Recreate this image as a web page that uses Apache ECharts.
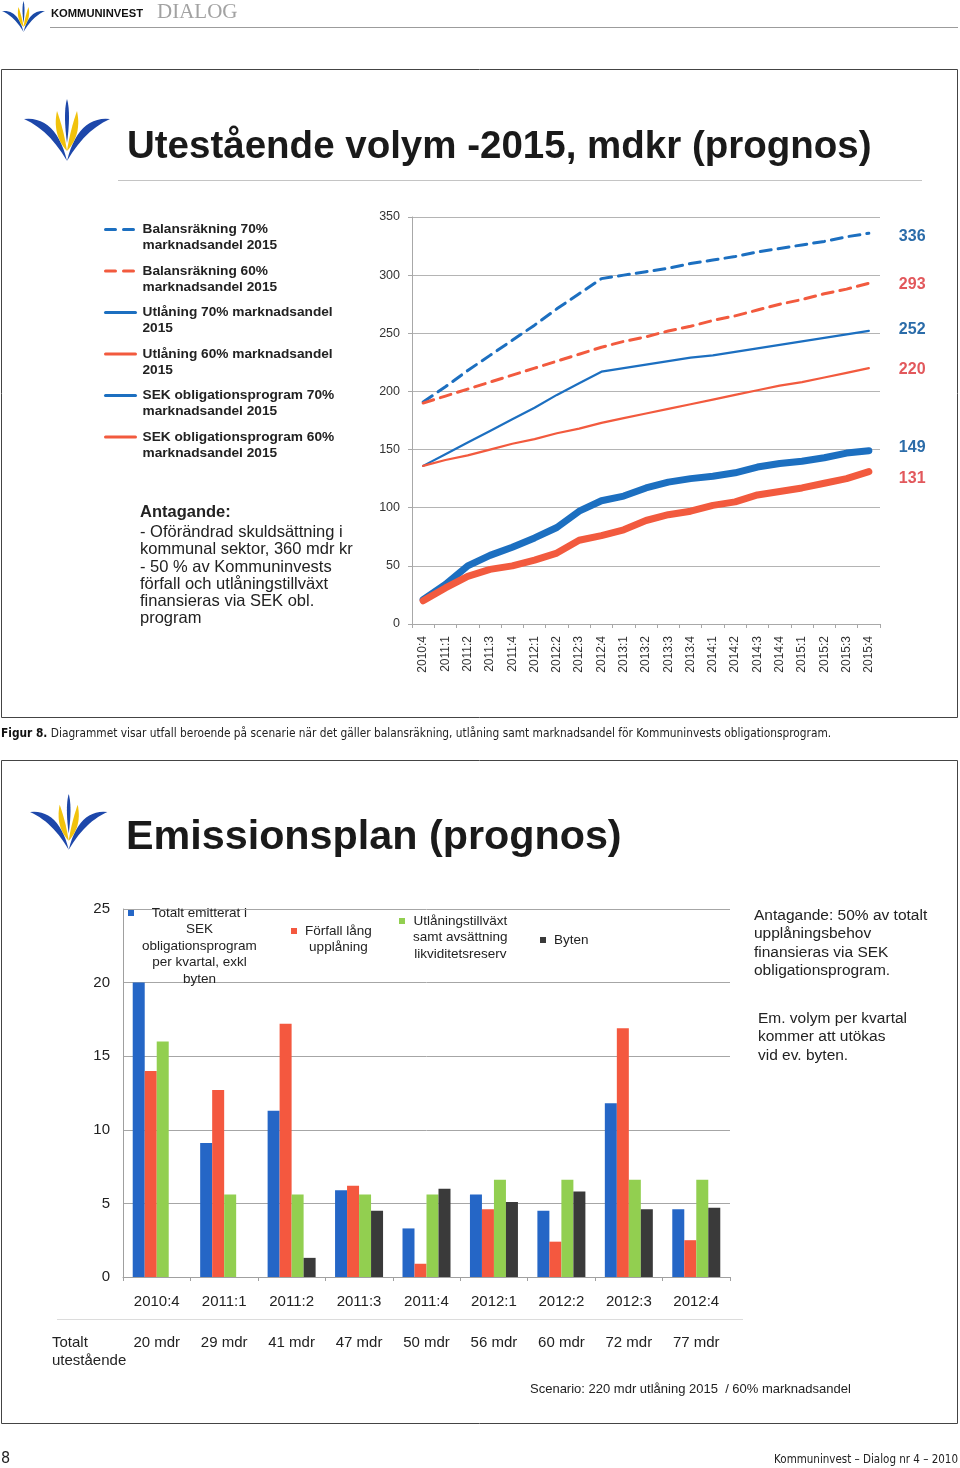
<!DOCTYPE html>
<html><head><meta charset="utf-8">
<script src="https://cdn.jsdelivr.net/npm/echarts@6/dist/echarts.min.js"></script>
<style>html,body{margin:0;padding:0;background:#fff}#c{width:960px;height:1468px}</style>
</head><body><div id="c"></div>
<script>
// ---------- DATA ----------
const quarters = ['2010:4','2011:1','2011:2','2011:3','2011:4','2012:1','2012:2','2012:3','2012:4',
  '2013:1','2013:2','2013:3','2013:4','2014:1','2014:2','2014:3','2014:4','2015:1','2015:2','2015:3','2015:4'];
const lineNames = [
  'Balansräkning 70%\nmarknadsandel 2015',
  'Balansräkning 60%\nmarknadsandel 2015',
  'Utlåning 70% marknadsandel\n2015',
  'Utlåning 60% marknadsandel\n2015',
  'SEK obligationsprogram 70%\nmarknadsandel 2015',
  'SEK obligationsprogram 60%\nmarknadsandel 2015'
];
const balans70 = [191,204,218,231,244,257,271,284,297,300,303,306,310,313,316,320,323,326,329,333,336];
const balans60 = [190,196,202,208,214,220,226,232,238,243,247,252,256,261,265,270,275,279,284,288,293];
const utlaning70 = [136,146,156,166,176,186,197,207,217,220,223,226,229,231,234,237,240,243,246,249,252];
const utlaning60 = [136,141,145,150,155,159,164,168,173,177,181,185,189,193,197,201,205,208,212,216,220];
const sek70 = [21,34,50,59,66,74,83,97,106,110,117,122,125,127,130,135,138,140,143,147,149];
const sek60 = [20,31,41,47,50,55,61,72,76,81,89,94,97,102,105,111,114,117,121,125,131];

const barQuarters = ['2010:4','2011:1','2011:2','2011:3','2011:4','2012:1','2012:2','2012:3','2012:4'];
const totalOutstanding = ['20 mdr','29 mdr','41 mdr','47 mdr','50 mdr','56 mdr','60 mdr','72 mdr','77 mdr'];
const barNames = [
  'Totalt emitterat i\nSEK\nobligationsprogram\nper kvartal, exkl\nbyten',
  'Förfall lång\nupplåning',
  'Utlåningstillväxt\nsamt avsättning\nlikviditetsreserv',
  'Byten'
];
const emitterat = [20.0, 9.1, 11.3, 5.9, 3.3, 5.6, 4.5, 11.8, 4.6];
const forfall   = [14.0, 12.7, 17.2, 6.2, 0.9, 4.6, 2.4, 16.9, 2.5];
const tillvaxt  = [16.0, 5.6, 5.6, 5.6, 5.6, 6.6, 6.6, 6.6, 6.6];
const byten     = [null, null, 1.3, 4.5, 6.0, 5.1, 5.8, 4.6, 4.7];

// ---------- STYLE ----------
const SANS = "'Liberation Sans', Arial, Helvetica, sans-serif";
const NARROW = "'Liberation Sans Narrow', 'Arial Narrow', 'DejaVu Sans Condensed', sans-serif";
const BLUE = '#1c6fc0', RED = '#f25a3e';
const LBLUE = '#2b6ca9', LRED = '#e2585c';
const BAR_COLORS = ['#2566c6', '#f4583f', '#92cf50', '#3a3a3a'];

// quadratic-curve outline helper for the logo shape
function quad(p0, c, p1, n) {
  const pts = [];
  for (let i = 0; i <= n; i++) {
    const t = i / n, u = 1 - t;
    pts.push([u * u * p0[0] + 2 * u * t * c[0] + t * t * p1[0], u * u * p0[1] + 2 * u * t * c[1] + t * t * p1[1]]);
  }
  return pts;
}
function leaf(a, c1, b, c2) { return quad(a, c1, b, 14).concat(quad(b, c2, a, 14)); }
function logo(x, y, s, blue, yellow) {
  const shapes = [
    [leaf([0, 20], [32, 17], [43, 62], [25, 31]), blue],
    [leaf([86, 20], [54, 17], [43, 62], [61, 31]), blue],
    [leaf([43, 52], [28, 36], [33, 12], [40, 32]), yellow],
    [leaf([43, 52], [58, 36], [53, 12], [46, 32]), yellow],
    [leaf([43, 0], [39, 14], [43, 44], [47, 14]), blue]
  ];
  return {
    type: 'group', x: x, y: y, scaleX: s, scaleY: s, silent: true,
    children: shapes.map(function (sh) { return {type: 'polygon', shape: {points: sh[0]}, style: {fill: sh[1]}}; })
  };
}

const lineData = [balans70, balans60, utlaning70, utlaning60, sek70, sek60];
const lineColors = [BLUE, RED, BLUE, RED, BLUE, RED];
const labelColors = [LBLUE, LRED, LBLUE, LRED, LBLUE, LRED];
const lineWidths = [3, 3, 2.2, 2.2, 7, 7];
const lineTypes = [[11, 7], [11, 7], 'solid', 'solid', 'solid', 'solid'];
const legendTypes = [[10, 8], [10, 8], 'solid', 'solid', 'solid', 'solid'];
const labelOffsets = [[0, 3], [0, 1], [0, -1], [0, 1], [0, -3], [0, 7]];

function richLines(nm) { return nm.split('\n').map(function (t) { return '{c|' + t + '}'; }).join('\n'); }

// legend helpers: one legend component per item; icon sits level with the first text line
function lineLegend(i, left, iconCenterY) {
  const L = 16, n = lineNames[i].split('\n').length;
  return {
    data: [lineNames[i]], left: left, top: iconCenterY - (2 * n - 1) * L / 2, orient: 'vertical', padding: 0,
    itemWidth: 30, itemHeight: 14, selectedMode: false,
    lineStyle: {width: 3, type: legendTypes[i], color: lineColors[i]},
    itemStyle: {opacity: 0},
    formatter: richLines,
    textStyle: {fontFamily: SANS, fontSize: 13.7, fontWeight: 'bold', color: '#222', lineHeight: L, padding: [(n - 1) * L, 0, 0, 2],
      rich: {c: {fontFamily: SANS, fontSize: 13.7, fontWeight: 'bold', color: '#222', lineHeight: L}}}
  };
}
function barLegend(i, left, iconCenterY) {
  const name = barNames[i], n = name.split('\n').length, L = 16.5;
  return {
    data: [name], left: left, top: iconCenterY - (2 * n - 1) * L / 2, orient: 'vertical', padding: 0,
    itemWidth: 6, itemHeight: 6, icon: 'rect', selectedMode: false,
    formatter: richLines,
    textStyle: {fontFamily: SANS, fontSize: 13.5, color: '#222', lineHeight: L, padding: [(n - 1) * L, 0, 0, 3],
      rich: {c: {fontFamily: SANS, fontSize: 13.5, color: '#222', lineHeight: L, align: 'center'}}}
  };
}

const series = [];
lineData.forEach(function (d, i) {
  series.push({
    type: 'line', name: lineNames[i], xAxisIndex: 0, yAxisIndex: 0, data: d,
    symbol: 'none', smooth: false, z: 3,
    lineStyle: {color: lineColors[i], width: lineWidths[i], type: lineTypes[i], cap: 'round', join: 'round'},
    itemStyle: {color: lineColors[i]},
    endLabel: {show: true, formatter: '{c}', distance: 30, offset: labelOffsets[i],
      color: labelColors[i], fontFamily: SANS, fontSize: 16, fontWeight: 'bold'}
  });
});
[emitterat, forfall, tillvaxt, byten].forEach(function (d, i) {
  series.push({
    type: 'bar', name: barNames[i], xAxisIndex: 1, yAxisIndex: 1, data: d,
    barWidth: 12, barGap: '0%', itemStyle: {color: BAR_COLORS[i]}
  });
});

const option = {
  animation: false,
  backgroundColor: '#ffffff',
  grid: [
    {left: 412, top: 217, width: 468, height: 407},
    {left: 123, top: 909, width: 607, height: 368}
  ],
  xAxis: [
    {type: 'category', gridIndex: 0, data: quarters, boundaryGap: true,
      axisLine: {lineStyle: {color: '#a8a8a8'}}, axisTick: {show: true, length: 4, lineStyle: {color: '#a8a8a8'}},
      axisLabel: {rotate: 90, margin: 12, fontFamily: SANS, fontSize: 12, color: '#333', interval: 0}},
    {type: 'category', gridIndex: 1, data: barQuarters, boundaryGap: true,
      axisLine: {lineStyle: {color: '#a0a0a0'}}, axisTick: {show: true, length: 4, lineStyle: {color: '#a0a0a0'}},
      axisLabel: {margin: 17, fontFamily: SANS, fontSize: 15, color: '#222', interval: 0}},
    {type: 'category', gridIndex: 1, data: totalOutstanding, boundaryGap: true, position: 'bottom', offset: 50,
      axisLine: {show: false}, axisTick: {show: false},
      axisLabel: {margin: 8, fontFamily: SANS, fontSize: 15, color: '#222', interval: 0}}
  ],
  yAxis: [
    {type: 'value', gridIndex: 0, min: 0, max: 350, interval: 50,
      axisLine: {show: true, lineStyle: {color: '#a8a8a8'}}, axisTick: {show: true, length: 4, lineStyle: {color: '#a8a8a8'}},
      splitLine: {show: true, lineStyle: {color: '#b4b4b4', width: 1}},
      axisLabel: {margin: 12, fontFamily: SANS, fontSize: 12.5, color: '#333'}},
    {type: 'value', gridIndex: 1, min: 0, max: 25, interval: 5,
      axisLine: {show: true, lineStyle: {color: '#a0a0a0'}}, axisTick: {show: false},
      splitLine: {show: true, lineStyle: {color: '#a6a6a6', width: 1}},
      axisLabel: {margin: 13, fontFamily: SANS, fontSize: 15, color: '#222'}}
  ],
  legend: [
    lineLegend(0, 104, 229.5),
    lineLegend(1, 104, 271),
    lineLegend(2, 104, 312.5),
    lineLegend(3, 104, 354),
    lineLegend(4, 104, 395.5),
    lineLegend(5, 104, 437),
    barLegend(0, 128, 913),
    barLegend(1, 291, 931),
    barLegend(2, 399, 921),
    barLegend(3, 540, 940)
  ],
  series: series,
  graphic: [
    // page header
    logo(2, 1, 0.5, '#1a4aa6', '#f3c300'),
    {type: 'text', x: 51, y: 14, style: {text: 'KOMMUNINVEST', font: 'bold 11.2px ' + SANS, fill: '#111', verticalAlign: 'middle'}},
    {type: 'text', x: 157, y: 12, style: {text: 'DIALOG', font: '21px "Liberation Serif", "DejaVu Serif", serif', fill: '#a2a2a2', verticalAlign: 'middle'}},
    {type: 'line', shape: {x1: 50, y1: 27.5, x2: 958, y2: 27.5}, style: {stroke: '#9c9c9c', lineWidth: 1}},
    // top panel
    {type: 'rect', shape: {x: 1.5, y: 69.5, width: 956, height: 648}, style: {fill: 'none', stroke: '#444', lineWidth: 1}, z: -1},
    logo(24, 99, 1, '#1d47aa', '#f1c20c'),
    {type: 'text', x: 127, y: 147, style: {text: 'Utestående volym -2015, mdkr (prognos)', font: 'bold 38.5px ' + SANS, fill: '#1a1a1a', verticalAlign: 'middle'}},
    {type: 'line', shape: {x1: 118, y1: 180.5, x2: 922, y2: 180.5}, style: {stroke: '#c4c4c4', lineWidth: 1}},
    {type: 'text', x: 140, y: 512, style: {text: 'Antagande:', font: 'bold 16.5px ' + SANS, fill: '#222', verticalAlign: 'middle'}},
    {type: 'text', x: 140, y: 524, style: {text: '- Oförändrad skuldsättning i\nkommunal sektor, 360 mdr kr\n- 50 % av Kommuninvests\nförfall och utlåningstillväxt\nfinansieras via SEK obl.\nprogram',
      font: '16.5px ' + SANS, fill: '#222', lineHeight: 17.2}},
    // caption
    {type: 'text', x: 1, y: 734, style: {text: '{b|Figur 8.} Diagrammet visar utfall beroende på scenarie när det gäller balansräkning, utlåning samt marknadsandel för Kommuninvests obligationsprogram.',
      font: '11.8px ' + NARROW, fill: '#222', verticalAlign: 'middle',
      rich: {b: {fontFamily: NARROW, fontSize: 11.8, fontWeight: 'bold', fill: '#111'}}}},
    // bottom panel
    {type: 'rect', shape: {x: 1.5, y: 760.5, width: 956, height: 663}, style: {fill: 'none', stroke: '#444', lineWidth: 1}, z: -1},
    logo(30, 794, 0.9, '#1d47aa', '#f1c20c'),
    {type: 'text', x: 126, y: 838, style: {text: 'Emissionsplan (prognos)', font: 'bold 41.3px ' + SANS, fill: '#1a1a1a', verticalAlign: 'middle'}},
    {type: 'text', x: 754, y: 906, style: {text: 'Antagande: 50% av totalt\nupplåningsbehov\nfinansieras via SEK\nobligationsprogram.', font: '15.5px ' + SANS, fill: '#222', lineHeight: 18.5}},
    {type: 'text', x: 758, y: 1009, style: {text: 'Em. volym per kvartal\nkommer att utökas\nvid ev. byten.', font: '15.5px ' + SANS, fill: '#222', lineHeight: 18.5}},
    {type: 'line', shape: {x1: 57, y1: 1319.5, x2: 743, y2: 1319.5}, style: {stroke: '#dcdcdc', lineWidth: 1}},
    {type: 'text', x: 52, y: 1333.5, style: {text: 'Totalt\nutestående', font: '15px ' + SANS, fill: '#222', lineHeight: 18}},
    {type: 'text', x: 530, y: 1389, style: {text: 'Scenario: 220 mdr utlåning 2015  / 60% marknadsandel', font: '13px ' + SANS, fill: '#222', verticalAlign: 'middle'}},
    // footer
    {type: 'text', x: 1, y: 1459, style: {text: '8', font: '16px ' + NARROW, fill: '#222', verticalAlign: 'middle'}},
    {type: 'text', x: 958, y: 1460, style: {text: 'Kommuninvest – Dialog nr 4 – 2010', font: '11.5px ' + NARROW, fill: '#222', align: 'right', verticalAlign: 'middle'}}
  ]
};

const chart = echarts.init(document.getElementById('c'), null, {renderer: 'canvas'});
chart.setOption(option);
</script>
</body></html>
